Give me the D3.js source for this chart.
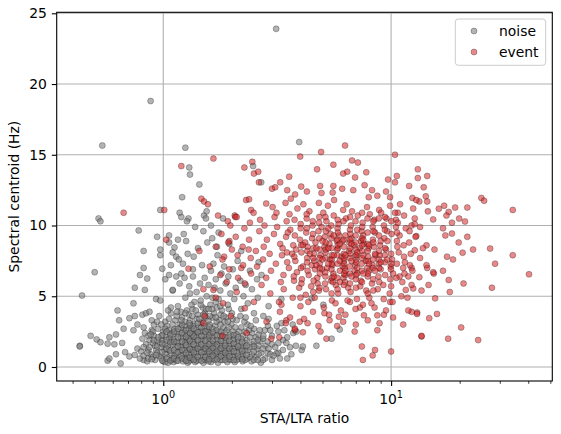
<!DOCTYPE html>
<html>
<head>
<meta charset="utf-8">
<script src="https://cdn.jsdelivr.net/npm/d3@7"></script>
<style>
  body { margin: 0; background: #fff; }
  svg text { font-family: "DejaVu Sans", sans-serif; }
</style>
</head>
<body>
<svg id="chart" width="561" height="434"></svg>
<script>
// [STA/LTA ratio, spectral centroid Hz]
const noise = [
  [0.43,1.5],[0.43,1.45],[0.44,5.05],[0.50,6.7],[0.52,10.5],[0.53,10.3],[0.54,15.65],[0.88,18.8],[3.13,23.9],[3.95,15.9],
  [1.25,15.5],[1.30,14.1],[1.31,13.6],[1.44,12.9],[1.21,12.0],[0.97,11.1],[1.18,10.9],[1.20,10.6],[1.29,10.5],[1.27,10.3],
  [1.51,10.7],[1.55,11.0],[1.54,10.5],[1.83,10.5],[2.48,14.2],[2.69,13.05],
  [0.78,9.65],[0.94,9.2],[1.06,9.3],[1.06,8.8],[0.82,8.2],[0.97,7.9],[0.97,8.3],[0.82,7.0],[0.79,6.5],[0.85,6.25],
  [0.99,6.95],[1.02,6.2],[1.06,6.5],[0.75,5.6],[0.83,5.45],[0.74,4.5],[0.63,4.0],[0.64,3.3],[0.71,3.45],[0.75,3.6],
  [0.81,3.7],[0.84,3.8],[0.87,3.9],[0.93,4.8],[0.97,4.7],[1.08,4.2],[1.10,5.4],
  [0.48,2.2],[0.51,1.95],[0.53,1.75],[0.57,1.65],[0.58,2.1],[0.62,2.3],[0.57,0.45],[0.58,0.6],[0.62,0.9],[0.65,0.25],
  [0.61,1.6],[0.66,1.7],[0.67,2.7],[0.74,2.6],[0.77,3.0],[0.68,1.05],[0.71,0.75],[0.75,0.85],[0.77,1.3],[0.82,0.5],
  [0.89,2.6],[0.91,3.0],[0.92,1.5],
  [1.12,8.45],[1.10,8.1],[1.14,7.8],[1.17,7.6],[1.22,7.3],[1.08,7.2],[1.20,6.6],[1.14,6.4],[1.24,6.3],[1.18,5.9],
  [1.26,8.9],[1.23,9.4],[1.16,9.0],[1.35,6.4],[1.31,5.2],[1.10,5.45],
  // dense core
  [0.80,1.1],[0.81,2.0],[0.79,0.6],[0.84,1.6],[0.85,0.4],[0.83,2.4],[0.88,0.9],[0.87,1.9],[0.89,3.3],
  [0.92,0.5],[0.93,1.2],[0.91,2.2],[0.96,0.8],[0.97,1.7],[0.95,2.7],[0.96,3.6],
  [1.00,0.4],[1.01,1.2],[0.99,1.9],[1.00,2.5],[1.02,3.2],[1.04,0.7],[1.05,1.5],[1.03,2.1],[1.04,2.9],[1.05,0.3],
  [1.08,1.0],[1.09,1.8],[1.07,2.4],[1.08,3.8],[1.09,0.5],[1.12,0.8],[1.13,1.4],[1.11,2.0],[1.12,2.7],[1.13,3.3],[1.11,0.35],
  [1.17,0.6],[1.18,1.1],[1.16,1.7],[1.17,2.3],[1.18,3.0],[1.16,4.3],[1.22,0.4],[1.23,0.9],[1.21,1.5],[1.22,2.0],[1.23,2.6],[1.21,3.5],
  [1.27,0.7],[1.28,1.2],[1.26,1.8],[1.27,2.3],[1.28,0.3],[1.26,2.9],[1.27,4.0],
  [1.32,0.5],[1.33,1.0],[1.31,1.6],[1.32,2.1],[1.33,2.6],[1.31,3.3],
  [1.37,0.8],[1.38,1.3],[1.36,1.9],[1.37,2.4],[1.38,0.35],[1.36,3.0],[1.37,4.6],
  [1.43,0.5],[1.44,1.1],[1.42,1.6],[1.43,2.2],[1.44,2.8],[1.42,3.7],
  [1.49,0.7],[1.50,1.3],[1.48,1.9],[1.49,2.5],[1.50,0.3],[1.48,3.2],[1.49,4.2],
  [1.55,0.5],[1.56,1.0],[1.54,1.5],[1.55,2.1],[1.56,2.7],[1.54,3.5],[1.55,5.0],
  [1.61,0.8],[1.62,1.3],[1.60,1.8],[1.61,2.4],[1.62,0.35],[1.60,3.0],[1.61,4.4],
  [1.68,0.5],[1.69,1.0],[1.67,1.6],[1.68,2.2],[1.69,2.9],[1.67,3.8],[1.68,5.6],
  [1.75,0.7],[1.76,1.2],[1.74,1.8],[1.75,2.5],[1.76,3.3],[1.74,0.3],[1.75,4.8],
  [1.82,0.5],[1.83,1.0],[1.81,1.5],[1.82,2.1],[1.83,2.8],[1.81,4.0],
  [1.90,0.8],[1.91,1.3],[1.89,1.9],[1.90,2.6],[1.91,0.35],[1.89,3.5],
  [1.98,0.5],[1.99,1.1],[1.97,1.6],[1.98,2.3],[1.99,3.0],
  [2.06,0.8],[2.07,1.4],[2.05,2.0],[2.06,0.35],[2.07,2.8],
  [2.15,0.6],[2.16,1.2],[2.14,1.8],[2.15,2.5],[2.24,0.9],[2.25,1.5],[2.23,0.4],[2.24,2.2],
  [2.34,0.6],[2.35,1.2],[2.33,1.9],[2.34,3.0],[2.45,0.9],[2.46,1.6],[2.44,0.4],[2.45,2.4],
  [2.56,0.7],[2.57,1.3],[2.55,2.1],[2.68,0.3],[2.69,1.0],[2.67,1.8],[2.80,0.6],[2.81,1.5],[2.79,2.6],
  // second layer of the core
  [0.82,0.8],[0.82,1.4],[0.82,2.8],[0.86,1.2],[0.86,2.2],[0.86,0.6],[0.90,0.7],[0.90,1.7],[0.90,2.5],
  [0.94,1.0],[0.94,1.9],[0.94,3.2],[0.98,0.6],[0.98,1.4],[0.98,2.2],[0.98,3.0],
  [1.02,0.9],[1.02,1.6],[1.02,2.7],[1.02,0.35],[1.06,1.2],[1.06,2.0],[1.06,2.6],[1.06,3.4],
  [1.10,0.6],[1.10,1.6],[1.10,2.3],[1.10,3.0],[1.145,1.0],[1.145,1.8],[1.145,2.5],[1.145,3.6],[1.145,0.45],
  [1.195,0.8],[1.195,1.4],[1.195,2.1],[1.195,2.8],[1.195,3.9],[1.245,0.55],[1.245,1.2],[1.245,1.7],[1.245,2.4],[1.245,3.2],
  [1.295,0.9],[1.295,1.4],[1.295,2.0],[1.295,2.7],[1.295,3.7],[1.295,0.4],
  [1.345,0.6],[1.345,1.2],[1.345,1.8],[1.345,2.3],[1.345,2.9],[1.345,4.1],
  [1.40,1.0],[1.40,1.5],[1.40,2.1],[1.40,2.6],[1.40,3.4],[1.40,0.45],
  [1.46,0.8],[1.46,1.4],[1.46,1.9],[1.46,2.5],[1.46,3.1],[1.46,4.4],
  [1.52,0.5],[1.52,1.1],[1.52,1.6],[1.52,2.3],[1.52,2.9],[1.52,3.8],
  [1.58,0.9],[1.58,1.3],[1.58,2.0],[1.58,2.5],[1.58,3.3],[1.58,0.4],
  [1.645,0.6],[1.645,1.1],[1.645,1.6],[1.645,2.1],[1.645,2.7],[1.645,3.5],[1.645,4.9],
  [1.715,0.9],[1.715,1.4],[1.715,1.9],[1.715,2.6],[1.715,3.2],[1.715,4.2],
  [1.785,0.5],[1.785,1.0],[1.785,1.6],[1.785,2.2],[1.785,3.0],[1.785,3.7],
  [1.86,0.7],[1.86,1.2],[1.86,1.7],[1.86,2.4],[1.86,3.2],
  [1.94,0.55],[1.94,1.0],[1.94,1.5],[1.94,2.1],[1.94,2.8],[1.94,4.1],
  [2.02,0.7],[2.02,1.3],[2.02,1.9],[2.02,2.5],[2.02,3.4],[2.10,0.5],[2.10,1.0],[2.10,1.6],[2.10,2.3],
  [2.20,0.7],[2.20,1.3],[2.20,2.0],[2.20,2.8],[2.29,0.5],[2.29,1.1],[2.29,1.7],[2.29,2.5],
  [2.40,0.7],[2.40,1.4],[2.40,2.1],[2.50,0.5],[2.50,1.1],[2.50,1.8],[2.50,2.7],
  [2.62,0.9],[2.62,1.5],[2.62,2.3],[2.74,0.5],[2.74,1.3],[2.74,2.0],[2.87,1.0],[2.87,1.8],[3.00,0.5],[3.00,1.6],[3.20,1.0],[3.20,2.5],
  // third layer of the core
  [0.99,0.45],[0.99,1.05],[0.99,1.65],[0.99,2.25],[1.035,0.6],[1.035,1.3],[1.035,1.9],[1.035,2.5],
  [1.075,0.45],[1.075,1.15],[1.075,1.75],[1.075,2.3],[1.115,0.6],[1.115,1.2],[1.115,1.8],[1.115,2.5],
  [1.16,0.45],[1.16,1.05],[1.16,1.45],[1.16,2.1],[1.16,2.7],[1.21,0.6],[1.21,1.2],[1.21,1.8],[1.21,2.4],[1.21,3.0],
  [1.26,0.45],[1.26,1.0],[1.26,1.55],[1.26,2.15],[1.26,2.6],[1.31,0.65],[1.31,1.25],[1.31,1.85],[1.31,2.4],[1.31,2.95],
  [1.36,0.5],[1.36,1.05],[1.36,1.6],[1.36,2.15],[1.36,2.7],[1.42,0.7],[1.42,1.3],[1.42,1.9],[1.42,2.45],[1.42,3.1],
  [1.47,0.45],[1.47,1.05],[1.47,1.6],[1.47,2.2],[1.47,2.8],[1.53,0.7],[1.53,1.3],[1.53,1.85],[1.53,2.5],
  [1.59,0.55],[1.59,1.1],[1.59,1.6],[1.59,2.25],[1.59,2.85],[1.65,0.8],[1.65,1.35],[1.65,1.85],[1.65,2.45],
  [1.72,0.55],[1.72,1.1],[1.72,1.6],[1.72,2.25],[1.79,0.75],[1.79,1.3],[1.79,1.85],[1.79,2.5],
  [1.87,0.5],[1.87,1.0],[1.87,1.5],[1.87,2.1],[1.95,0.75],[1.95,1.3],[1.95,1.85],
  [2.04,0.5],[2.04,1.1],[2.04,1.65],[2.04,2.25],[2.13,0.75],[2.13,1.45],[2.13,2.1],
  [2.22,0.55],[2.22,1.15],[2.22,1.75],[2.32,0.85],[2.32,1.5],[2.38,2.6],[2.50,1.45],[2.60,0.5],[2.60,1.9],
  [0.85,1.0],[0.87,1.4],[0.89,0.55],[0.91,1.9],[0.93,0.85],[0.95,2.1],[0.88,2.3],[0.94,1.45],
  // upper edge of the core
  [1.20,3.3],[1.25,3.8],[1.30,3.1],[1.34,3.6],[1.39,4.0],[1.44,3.4],[1.50,3.7],[1.54,4.1],[1.60,3.6],[1.64,4.1],
  [1.70,3.5],[1.78,4.3],[1.84,3.6],[1.92,3.2],[2.00,3.8],[2.10,3.3],[2.18,3.6],[2.27,3.2],[1.15,3.9],[1.05,4.0],
  // right tail
  [2.95,0.9],[3.10,1.4],[3.14,0.95],[3.00,2.2],[3.25,0.6],[3.36,1.9],[3.47,1.7],[3.82,1.5],[4.05,1.2],[3.50,0.6],
  [3.72,2.4],[3.84,2.5],[4.10,1.45],[4.70,1.5],[5.48,2.0],[5.95,2.65],[3.30,4.8],[4.48,4.85],[5.04,4.4],[3.30,3.1],
  [2.90,3.4],[3.70,3.0],[2.30,3.5],[2.42,2.9],[2.55,3.3],[2.65,2.6],[2.75,2.2],[2.88,2.9],
  [2.90,1.3],[3.05,0.8],[3.20,1.7],[3.35,1.2],[3.50,2.1],[3.65,0.9],[2.95,2.6],[3.15,2.9],[3.40,2.6],[3.60,1.4],
  // spread above the core
  [1.40,5.3],[1.45,5.9],[1.52,6.3],[1.58,5.8],[1.62,6.8],[1.66,7.3],[1.70,6.2],[1.73,7.9],[1.78,5.4],[1.80,6.6],
  [1.85,7.1],[1.88,5.9],[1.93,6.4],[1.97,5.2],[2.02,6.9],[2.08,5.6],[2.12,7.5],[2.18,6.1],[2.25,5.0],[2.30,5.8],
  [1.36,7.8],[1.42,8.4],[1.48,7.2],[1.56,8.8],[1.64,9.1],[1.72,8.5],[1.35,6.9],[1.30,5.7],[1.25,4.9],[1.33,4.4],
  [1.46,4.7],[1.58,4.1],[1.70,4.6],[1.92,4.4],[2.05,4.8],[2.20,4.1],[2.35,4.5],[2.50,3.8],[2.60,4.9],[2.75,3.6],
  [2.90,4.3],[2.45,5.5],[2.58,6.2],[2.20,8.2],[1.95,8.7],[1.28,8.0],[1.50,9.6],[1.38,9.9],[1.62,10.0],[1.75,9.5],
  [2.70,6.5],[2.62,7.4],[2.40,6.8]
];

const event = [
  // sparse / outlying
  [0.67,10.9],[1.01,11.1],[1.03,9.0],[1.20,14.2],[1.66,14.73],[1.47,11.9],[1.51,11.7],[1.57,11.5],[1.74,10.7],[1.92,10.3],
  [2.06,10.7],[2.07,10.6],[2.27,14.1],[2.46,14.5],[2.50,13.67],[2.61,13.8],[2.63,13.05],[2.31,11.8],[2.38,11.85],[2.43,11.1],
  [2.49,10.9],[2.83,11.55],[3.26,13.05],[3.00,12.6],[3.10,12.7],[3.57,13.45],[3.50,12.5],[4.03,12.75],[3.99,14.87],[4.93,15.2],
  [6.28,15.65],[5.58,14.3],[6.74,14.6],[7.15,14.45],[4.73,13.97],[6.16,13.67],[6.42,13.8],[6.95,13.4],[7.78,13.76],[9.70,13.25],
  [10.4,13.05],[10.6,13.5],[10.4,15.0],[13.1,13.97],[14.4,13.5],[13.1,13.35],[12.0,12.8],[13.9,12.7],[4.88,12.8],[5.58,12.8],
  [6.10,12.6],[6.82,12.5],[7.65,12.85],[8.25,12.5],[8.70,12.1],[9.50,12.4],[9.90,12.0],[3.79,12.2],[4.27,12.4],[4.95,12.3],
  [5.54,12.33],[7.98,12.0],[12.4,11.95],[13.3,11.7],[14.2,12.06],
  [24.9,11.95],[25.6,11.75],[34.2,11.1],[21.6,11.27],[19.1,11.27],[17.1,11.4],[17.9,10.96],[16.2,11.19],[19.9,10.49],[21.1,10.28],
  [18.5,10.2],[17.5,10.7],[15.3,10.43],[14.5,11.0],[16.9,9.8],[17.3,9.3],[18.5,9.43],[21.6,9.2],[19.8,8.8],[22.9,8.3],
  [27.2,8.37],[20.6,8.08],[15.5,8.3],[14.3,8.6],[17.6,7.8],[18.7,7.6],[28.6,7.3],[34.2,7.9],[40.3,6.55],[16.9,6.8],
  [15.4,6.6],[17.9,6.15],[20.8,5.9],[27.7,5.6],[14.4,7.0],[18.1,5.3],[15.6,4.85],[20.3,2.8],[24.1,1.9],[17.8,2.0],
  [13.6,2.15],[15.9,3.75],[14.7,3.45],[13.0,3.85],[12.3,3.9],[11.9,4.0],[11.3,3.0],[10.0,1.1],[15.3,6.7],[14.6,5.8],
  [13.6,5.4],[12.9,11.8],[14.4,11.7],[12.5,11.2],[10.7,10.9],[12.7,10.5],[10.5,10.4],[12.3,10.0],[13.4,9.9],[12.9,9.25],
  [13.8,8.4],[12.7,8.25],[14.3,7.2],[13.4,7.7],[12.3,7.0],[10.9,6.4],[13.3,6.35],[12.5,5.55],[11.6,5.45],[13.0,3.75],
  [13.6,2.2],
  [4.90,2.5],[5.20,2.0],[6.92,2.5],[7.44,1.45],[7.52,0.5],[8.30,0.82],[8.50,1.2],[8.70,2.6],[7.60,3.65],[6.16,3.2],
  [5.90,3.55],[5.37,3.3],[4.54,3.9],[4.10,2.45],[8.70,3.65],[9.90,4.6],[9.30,3.7],[3.78,2.6],[3.97,3.2],[3.47,3.3],
  [1.29,6.95],[1.50,5.5],[1.66,5.45],[1.83,4.5],[1.98,3.6],[1.52,3.6],[1.50,3.1],[1.82,2.2],[2.32,2.4],[2.84,3.2],
  [3.25,3.9],[3.45,3.1],[2.98,2.0],[3.23,2.1],[3.78,2.7],[2.28,4.15],[1.70,4.9],[1.90,6.0],[2.10,5.3],[2.50,4.6],
  [2.70,5.8],[2.20,7.0],[1.85,7.8],[2.00,8.3],[1.95,8.9],[1.70,8.5],[1.60,7.1],[1.44,8.2],[1.78,6.5],
  [3.30,4.4],[3.60,3.5],[4.00,4.9],[4.30,3.1],[4.80,2.9],[5.10,3.8],[5.50,4.7],[5.80,2.9],[6.30,3.7],[6.60,4.6],
  [7.00,3.0],[7.30,4.2],[7.90,3.3],[8.20,4.5],[8.90,3.1],[9.50,4.0],[10.2,3.5],
  // dense cluster
  [1.80,9.4],[1.82,7.6],[1.93,8.8],[1.97,10.0],[1.95,6.9],[2.08,9.2],[2.12,7.9],[2.10,10.6],[2.13,6.3],
  [2.23,8.5],[2.27,9.8],[2.24,7.2],[2.28,5.9],[2.38,9.0],[2.42,7.7],[2.40,10.2],[2.43,6.6],[2.37,8.3],
  [2.55,8.2],[2.64,9.6],[2.58,7.1],[2.66,10.4],
  [2.74,7.6],[2.85,9.0],[2.78,10.0],[2.83,6.3],[2.76,8.5],
  [2.93,8.0],[3.06,9.4],[2.97,6.8],[3.08,10.6],[2.95,5.2],[3.02,11.3],
  [3.12,7.3],[3.26,8.7],[3.16,9.9],[3.28,6.0],[3.14,10.9],[3.22,4.6],
  [3.32,7.9],[3.46,9.2],[3.37,6.5],[3.48,10.3],[3.34,8.4],[3.44,11.6],[3.38,5.5],
  [3.56,7.0],[3.72,8.6],[3.61,9.7],[3.75,6.1],[3.58,10.8],[3.70,4.9],[3.63,11.9],[3.68,8.0],
  [3.80,7.5],[3.98,9.0],[3.86,6.7],[4.01,10.1],[3.83,8.3],[3.95,5.6],[3.88,11.2],[4.00,4.3],
  [4.04,8.1],[4.24,9.5],[4.10,7.1],[4.26,10.5],[4.06,6.2],[4.20,8.8],[4.12,11.5],[4.22,5.1],[4.15,3.4],
  [4.28,7.7],[4.50,9.1],[4.35,6.5],[4.52,10.0],[4.30,8.5],[4.46,5.7],[4.38,11.0],[4.48,7.2],[4.33,4.6],
  [4.58,8.0],[4.80,9.6],[4.64,6.9],[4.84,10.6],[4.60,7.5],[4.76,5.9],[4.66,8.8],[4.82,11.6],[4.62,4.9],[4.74,6.3],
  [4.86,7.3],[5.10,8.5],[4.95,9.9],[5.15,6.4],[4.90,7.9],[5.04,10.9],[4.82,5.4],[5.12,9.2],[4.98,6.9],[5.07,4.2],
  [5.16,8.1],[5.42,9.4],[5.24,7.0],[5.45,6.1],[5.20,10.3],[5.36,8.7],[5.18,5.5],[5.40,7.6],[5.28,11.4],[5.34,3.7],
  [5.50,7.6],[5.78,8.9],[5.58,6.6],[5.82,9.8],[5.52,7.2],[5.72,5.8],[5.60,10.7],[5.80,8.3],[5.55,6.0],[5.70,4.5],[5.62,11.8],
  [5.84,8.4],[6.14,7.1],[5.92,9.3],[6.18,6.3],[5.88,10.1],[6.06,7.8],[5.86,5.2],[6.12,8.9],[5.96,6.8],[6.16,11.1],[6.02,4.0],
  [6.22,7.5],[6.56,8.8],[6.30,6.5],[6.60,9.7],[6.26,7.0],[6.48,5.6],[6.34,10.5],[6.54,8.2],[6.28,6.0],[6.44,4.7],[6.38,11.5],
  [6.62,8.0],[6.96,7.2],[6.70,9.1],[7.00,6.2],[6.66,10.0],[6.88,8.6],[6.64,5.3],[6.92,6.8],[6.74,11.0],[6.98,4.1],
  [7.02,7.6],[7.38,8.9],[7.10,6.6],[7.42,9.6],[7.06,7.9],[7.32,5.7],[7.14,10.7],[7.36,6.1],[7.08,4.8],[7.28,8.4],
  [7.46,8.2],[7.86,7.0],[7.54,9.3],[7.90,6.4],[7.50,10.2],[7.78,5.4],[7.58,8.7],[7.84,11.3],[7.52,4.4],[7.74,7.5],
  [7.92,7.8],[8.32,9.0],[8.00,6.8],[8.30,9.9],[7.96,8.4],[8.24,5.9],[8.06,10.8],[8.28,7.2],[8.02,4.9],
  [8.40,8.5],[8.84,7.3],[8.50,9.5],[8.80,6.4],[8.44,10.4],[8.74,5.5],[8.54,7.9],[8.86,11.1],[8.46,4.2],
  [8.90,7.9],[9.34,9.1],[9.00,6.9],[9.30,10.0],[8.94,8.6],[9.24,5.8],[9.04,10.9],[9.28,4.8],
  [9.50,8.3],[9.96,7.1],[9.60,9.6],[9.92,6.2],[9.54,10.5],[9.86,5.2],[9.64,8.9],[9.90,11.4],
  [10.1,7.6],[10.6,8.9],[10.2,6.6],[10.5,9.9],[10.0,5.7],[10.4,10.9],[10.15,4.6],
  [10.8,8.1],[11.3,7.0],[10.9,9.3],[11.2,6.0],[10.7,10.2],[11.1,5.0],[10.95,11.5],
  [11.5,7.4],[12.0,8.8],[11.6,9.8],[11.9,6.4],[11.4,10.7],[11.8,4.9],
  [12.2,8.0],[12.8,9.2],[12.4,6.8],[12.7,10.1],[12.3,5.8],
  // second layer of the cluster
  [3.50,7.4],[3.52,9.5],[3.49,8.1],[3.76,7.8],[3.78,9.3],[3.74,6.4],[3.77,10.4],
  [4.02,7.0],[4.03,8.6],[4.01,9.8],[4.04,5.9],[4.28,7.4],[4.29,8.2],[4.27,9.8],[4.30,6.8],[4.26,10.8],
  [4.55,7.7],[4.56,8.4],[4.54,9.4],[4.57,6.1],[4.53,10.3],[4.55,5.3],
  [4.85,8.3],[4.86,7.0],[4.84,9.1],[4.87,6.6],[4.83,10.2],[4.85,5.6],[4.86,7.7],
  [5.15,7.7],[5.16,8.8],[5.14,6.7],[5.17,9.6],[5.13,5.9],[5.15,10.6],[5.16,8.3],
  [5.48,8.4],[5.49,7.3],[5.47,9.1],[5.50,6.3],[5.46,10.0],[5.48,5.2],[5.49,7.9],[5.47,6.9],
  [5.82,7.3],[5.83,8.6],[5.81,6.3],[5.84,9.5],[5.80,7.9],[5.82,5.5],[5.83,10.4],[5.81,9.0],
  [6.20,8.0],[6.21,7.3],[6.19,9.0],[6.22,6.6],[6.18,10.3],[6.20,5.8],[6.21,8.5],[6.19,7.7],
  [6.60,7.7],[6.61,8.4],[6.59,6.6],[6.62,9.4],[6.58,7.1],[6.60,5.9],[6.61,10.6],[6.59,9.0],
  [7.00,8.3],[7.01,7.4],[6.99,9.3],[7.02,6.5],[6.98,10.3],[7.00,7.9],[7.01,5.6],[6.99,8.8],
  [7.45,7.7],[7.46,8.6],[7.44,6.8],[7.47,9.9],[7.43,7.3],[7.45,6.0],[7.46,10.9],[7.44,9.1],
  [7.90,8.2],[7.91,7.5],[7.89,9.5],[7.92,6.6],[7.88,10.5],[7.90,5.2],[7.91,8.7],
  [8.35,7.6],[8.36,8.8],[8.34,6.2],[8.37,9.6],[8.33,7.0],[8.35,10.3],[8.36,5.4],
  [8.85,8.2],[8.86,7.0],[8.84,9.3],[8.87,6.0],[8.83,10.5],[8.85,7.6],
  [9.40,7.4],[9.41,8.4],[9.39,9.7],[9.42,6.5],[9.38,7.9],[9.40,10.6],
  [10.0,8.0],[10.05,9.4],[9.98,6.9],[10.02,10.3],[10.03,7.3],
  [10.6,7.3],[10.65,8.5],[10.55,6.3],[10.62,9.5],[11.4,7.8],[11.35,8.6],[11.45,6.6],[12.1,7.2],[12.05,9.6],
  // third layer, cluster centre
  [4.70,7.2],[4.70,8.4],[5.00,7.6],[5.00,8.9],[5.30,7.3],[5.30,8.4],[5.30,9.8],[5.60,7.9],[5.60,9.3],[5.60,6.4],
  [5.95,7.5],[5.95,8.7],[5.95,6.0],[6.30,7.9],[6.30,9.3],[6.30,6.8],[6.70,7.5],[6.70,8.7],[6.70,6.4],[7.10,8.1],
  [7.10,7.0],[7.10,9.7],[7.55,7.9],[7.55,6.6],[7.55,9.0],[8.00,7.3],[8.00,8.6],[8.50,8.0],[8.50,6.8],[9.00,7.4],
  [9.00,8.9],[4.40,8.0],[4.10,8.6],[9.60,7.6]
];

const yTicks = [0, 5, 10, 15, 20, 25];
const xMajor = [1, 10];
const xMinor = [0.4, 0.5, 0.6, 0.7, 0.8, 0.9, 2, 3, 4, 5, 6, 7, 8, 9, 20, 30, 40, 50];
const seriesNames = ["noise", "event"];
const xLabel = "STA/LTA ratio";
const yLabel = "Spectral centroid (Hz)";

const W = 561, H = 434;
const m = { left: 56.7, right: 8.7, top: 12.3, bottom: 53 };
const fs = 13.9;
const styles = {
  noise: { fill: "#808080", fo: 0.6 },
  event: { fill: "#d62728", fo: 0.55 }
};

const svg = d3.select("#chart");
const x = d3.scaleLog().domain([0.3406, 51.0]).range([m.left, W - m.right]);
const y = d3.scaleLinear().domain([-0.99, 25.07]).range([H - m.bottom, m.top]);

// grid
svg.append("g").selectAll("line").data(yTicks).join("line")
  .attr("x1", m.left).attr("x2", W - m.right)
  .attr("y1", d => y(d)).attr("y2", d => y(d))
  .attr("stroke", "#b0b0b0").attr("stroke-width", 1.1);
svg.append("g").selectAll("line").data(xMajor).join("line")
  .attr("x1", d => x(d)).attr("x2", d => x(d))
  .attr("y1", m.top).attr("y2", H - m.bottom)
  .attr("stroke", "#b0b0b0").attr("stroke-width", 1.1);

function drawPoints(data, st) {
  svg.append("g").selectAll("circle").data(data).join("circle")
    .attr("cx", d => x(d[0])).attr("cy", d => y(d[1])).attr("r", 3)
    .attr("fill", st.fill).attr("fill-opacity", st.fo)
    .attr("stroke", "#000").attr("stroke-opacity", 0.45).attr("stroke-width", 0.6);
}
drawPoints(noise, styles.noise);
drawPoints(event, styles.event);

// axes
const yAxis = svg.append("g").attr("transform", `translate(${m.left},0)`)
  .call(d3.axisLeft(y).tickValues(yTicks).tickSize(4.9).tickPadding(4.9));
const xAxis = svg.append("g").attr("transform", `translate(0,${H - m.bottom})`)
  .call(d3.axisBottom(x).tickValues(xMajor).tickSize(4.9).tickPadding(4.9).tickFormat(""));
svg.append("g").attr("transform", `translate(0,${H - m.bottom})`)
  .call(d3.axisBottom(x).tickValues(xMinor).tickSize(2.8).tickFormat(""))
  .call(g => g.select(".domain").remove())
  .call(g => g.selectAll("line").attr("stroke-width", 0.8));
[yAxis, xAxis].forEach(g => {
  g.select(".domain").remove();
  g.selectAll("line").attr("stroke", "#000").attr("stroke-width", 1.1);
  g.selectAll("text").attr("font-size", fs).attr("fill", "#000").attr("font-family", "DejaVu Sans");
});

// x tick labels 10^n
xMajor.forEach(v => {
  const t = svg.append("text").attr("x", x(v)).attr("y", 404)
    .attr("text-anchor", "middle").attr("font-size", fs);
  t.append("tspan").text("10");
  t.append("tspan").attr("dy", -6).attr("font-size", 9.7).text(Math.round(Math.log10(v)));
});

// frame
svg.append("rect").attr("x", m.left).attr("y", m.top)
  .attr("width", W - m.left - m.right).attr("height", H - m.top - m.bottom)
  .attr("fill", "none").attr("stroke", "#000").attr("stroke-width", 1.1);

// labels
svg.append("text").attr("x", (m.left + W - m.right) / 2).attr("y", 423)
  .attr("text-anchor", "middle").attr("font-size", fs).text(xLabel);
svg.append("text").attr("transform", `translate(19,${(m.top + H - m.bottom) / 2}) rotate(-90)`)
  .attr("text-anchor", "middle").attr("font-size", fs).text(yLabel);

// legend
const lg = svg.append("g");
lg.append("rect").attr("x", 455.3).attr("y", 19).attr("width", 90.4).attr("height", 46.3)
  .attr("rx", 3).attr("fill", "#fff").attr("fill-opacity", 0.8)
  .attr("stroke", "#cccccc").attr("stroke-width", 1);
seriesNames.forEach((name, i) => {
  const st = styles[name];
  lg.append("circle").attr("cx", 474).attr("cy", 31 + i * 21).attr("r", 3)
    .attr("fill", st.fill).attr("fill-opacity", st.fo)
    .attr("stroke", "#000").attr("stroke-opacity", 0.45).attr("stroke-width", 0.6);
  lg.append("text").attr("x", 499).attr("y", 36 + i * 21).attr("font-size", fs).text(name);
});
</script>
</body>
</html>
